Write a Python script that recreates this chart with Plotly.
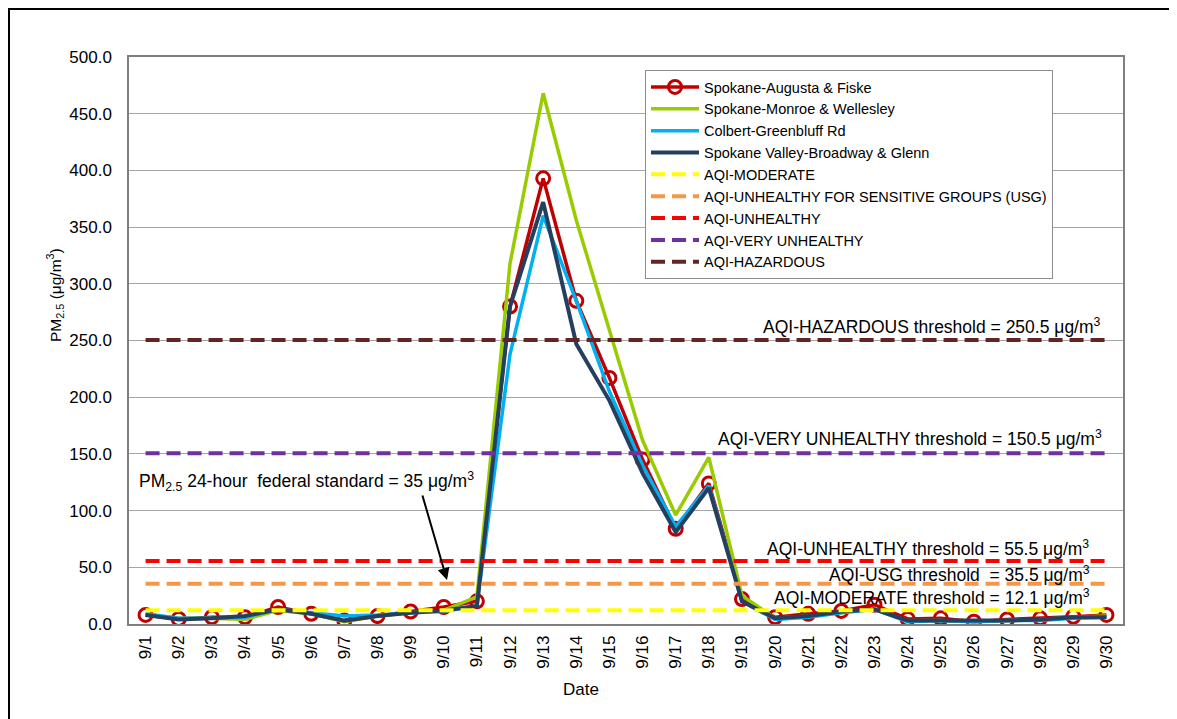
import plotly.graph_objects as go

dates = [f"9/{d}" for d in range(1, 31)]

augusta_fiske = [8, 4.5, 6, 6, 15, 9, 3, 7, 11, 15, 20, 280, 393, 285, 217, 145, 84, 124, 22,
                 6, 9, 11.5, 17, 4.5, 5, 2, 4, 5, 6.5, 8]
monroe_wellesley = [8, 5, 5, 4, 12, 9, 2, 7, 10, 12, 24, 318, 468, 356, 259, 162, 96, 147, 25,
                    5, 7, 10, 13, 3, 3, 2, 3, 4, 6, 7]
colbert_greenbluff = [9, 5, 5, 6, 13, 10, 7, 8, 10, 11, 16, 238, 360, 285, 205, 140, 86, 122, 20,
                      4, 6, 10, 13, 2, 3, 2, 3, 3, 5, 6]
valley_broadway = [8, 4, 5, 7, 13, 9, 3, 7, 10, 12, 16, 280, 372, 247, 197, 133, 81, 120, 20,
                   5, 7, 11, 13, 3, 3, 3, 3, 4, 6, 6]

aqi_moderate = 12.1
aqi_usg = 35.5
aqi_unhealthy = 55.5
aqi_very_unhealthy = 150.5
aqi_hazardous = 250.5

y_ticks = [0, 50, 100, 150, 200, 250, 300, 350, 400, 450, 500]

FONT = "Liberation Sans, Arial, sans-serif"

fig = go.Figure()

fig.add_trace(go.Scatter(x=dates, y=augusta_fiske, name="Spokane-Augusta & Fiske",
                         mode="lines+markers",
                         line=dict(color="#C00000", width=3.5),
                         marker=dict(symbol="circle-open", size=13, color="#C00000",
                                     line=dict(width=3, color="#C00000"))))
fig.add_trace(go.Scatter(x=dates, y=monroe_wellesley, name="Spokane-Monroe & Wellesley",
                         mode="lines", line=dict(color="#99CC00", width=3.5)))
fig.add_trace(go.Scatter(x=dates, y=colbert_greenbluff, name="Colbert-Greenbluff Rd",
                         mode="lines", line=dict(color="#00B0F0", width=3.5)))
fig.add_trace(go.Scatter(x=dates, y=valley_broadway, name="Spokane Valley-Broadway & Glenn",
                         mode="lines", line=dict(color="#243F60", width=4)))

thresholds = [
    ("AQI-MODERATE", aqi_moderate, "#FFFF00"),
    ("AQI-UNHEALTHY FOR SENSITIVE GROUPS (USG)", aqi_usg, "#F79646"),
    ("AQI-UNHEALTHY", aqi_unhealthy, "#FF0000"),
    ("AQI-VERY UNHEALTHY", aqi_very_unhealthy, "#7030A0"),
    ("AQI-HAZARDOUS", aqi_hazardous, "#632523"),
]
for name, val, col in thresholds:
    fig.add_trace(go.Scatter(x=dates, y=[val] * len(dates), name=name, mode="lines",
                             line=dict(color=col, width=4, dash="14px,7px")))

# screen (page) coordinates of the plot area in the reference
L, R, T, B = 129, 1123, 57, 624
W, H = R - L, B - T
OFF = 8  # default page body margin
FIG_W, FIG_H = 1177 - OFF, 719 - OFF


def px(xp):
    return (xp - L) / W


def py(yp):
    return (B - yp) / H


ann_font = dict(family=FONT, size=17.5, color="#000000")
labels = [
    ("AQI-HAZARDOUS threshold = 250.5 μg/m<sup>3</sup>", 1103, 326),
    ("AQI-VERY UNHEALTHY threshold = 150.5 μg/m<sup>3</sup>", 1104, 438),
    ("AQI-UNHEALTHY threshold = 55.5 μg/m<sup>3</sup>", 1091, 548),
    ("AQI-USG threshold  = 35.5 μg/m<sup>3</sup>", 1092, 574),
    ("AQI-MODERATE threshold = 12.1 μg/m<sup>3</sup>", 1092, 597),
]
for txt, xr, yc in labels:
    fig.add_annotation(text=txt, xref="paper", yref="paper", x=px(xr), y=py(yc),
                       xanchor="right", yanchor="middle", showarrow=False, font=ann_font)

fig.add_annotation(text="PM<sub>2.5</sub> 24-hour  federal standard = 35 μg/m<sup>3</sup>",
                   xref="paper", yref="paper", x=px(137), y=py(481), xanchor="left",
                   yanchor="middle", showarrow=False, font=ann_font)
fig.add_annotation(text="", xref="paper", yref="paper", x=px(447), y=py(580),
                   ax=-25, ay=-86, showarrow=True, arrowhead=2, arrowsize=1.2,
                   arrowwidth=2, arrowcolor="#000000")

fig.add_annotation(text="PM<sub>2.5</sub> (μg/m<sup>3</sup>)", xref="paper", yref="paper",
                   x=px(55), y=py(295), textangle=-90, showarrow=False,
                   xanchor="center", yanchor="middle",
                   font=dict(family=FONT, size=15.5, color="#000000"))
fig.add_annotation(text="Date", xref="paper", yref="paper", x=px(581), y=py(689),
                   showarrow=False, xanchor="center", yanchor="middle",
                   font=dict(family=FONT, size=17, color="#000000"))

# outer border
fig.add_shape(type="rect", xref="paper", yref="paper",
              x0=px(OFF + 1), x1=px(1175), y0=py(760), y1=py(OFF + 1),
              line=dict(color="#000000", width=2), fillcolor="rgba(0,0,0,0)", layer="below")

fig.update_layout(
    width=FIG_W, height=FIG_H,
    margin=dict(l=L - OFF, r=FIG_W - (R - OFF), t=T - OFF, b=FIG_H - (B - OFF)),
    paper_bgcolor="white", plot_bgcolor="white",
    font=dict(family=FONT, size=16, color="#000000"),
    legend=dict(x=px(645), y=py(70), xanchor="left", yanchor="top",
                bgcolor="white", bordercolor="#8c8c8c", borderwidth=1,
                font=dict(family=FONT, size=14.5, color="#000000"),
                tracegroupgap=0, itemwidth=48),
    showlegend=True,
)
fig.update_xaxes(type="category", range=[-0.5, 29.5], tickangle=-90,
                 showgrid=False, showline=True, linecolor="#7f7f7f", linewidth=1.5,
                 mirror=True, ticks="", tickfont=dict(family=FONT, size=17),
                 ticklabelstandoff=3)
fig.update_yaxes(range=[0, 500], tickvals=y_ticks, tickformat=".1f",
                 showgrid=True, gridcolor="#a6a6a6", gridwidth=1.2,
                 showline=True, linecolor="#7f7f7f", linewidth=1.5, mirror=True,
                 ticks="", zeroline=False, tickfont=dict(family=FONT, size=17),
                 ticklabelstandoff=12)

fig.write_html("out.html")
